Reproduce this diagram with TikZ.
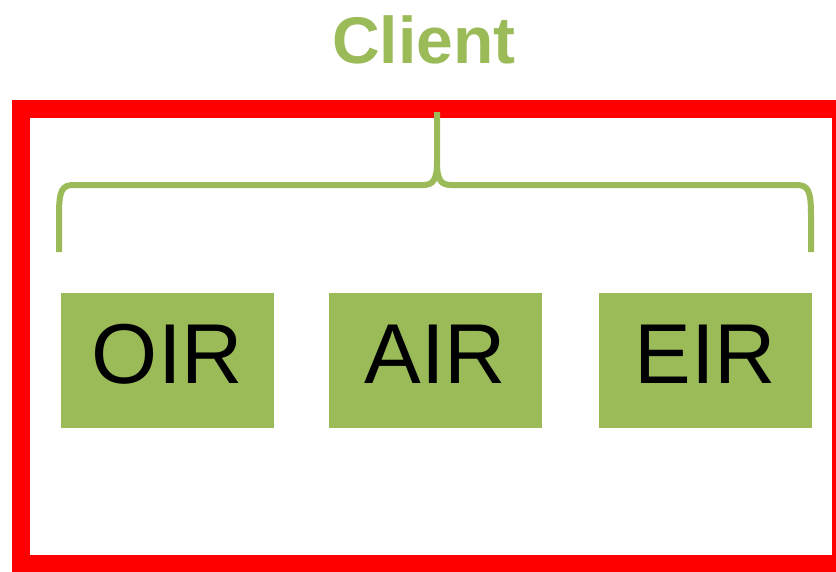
\documentclass[tikz,border=0pt]{standalone}
\usepackage{fontspec}
\setmainfont{Liberation Sans}
\definecolor{cgreen}{HTML}{9BBB59}
\definecolor{cred}{HTML}{FF0000}
\begin{document}
\begin{tikzpicture}[x=1pt,y=-1pt,
  ir/.style={fill=cgreen, minimum width=213pt, minimum height=135pt, inner sep=0pt, text height=61pt, text depth=16pt, font=\fontsize{85}{90}\selectfont, text=black},
  brace/.style={draw=cgreen, line width=6pt, line cap=butt}]
\useasboundingbox (0,0) rectangle (836,571);
\begin{scope}
\clip (0,0) rectangle (836,571);
\draw[cred, line width=18pt] (21,109) rectangle (841,564);
\end{scope}
\node[text=cgreen, anchor=base, inner sep=0pt, font=\bfseries\fontsize{66}{70}\selectfont] (title) at (424,63) {Client};
\coordinate (bl) at (59,252);
\coordinate (br) at (811,252);
\coordinate (tip) at (437,112);
\draw[brace] (bl) -- (59,215) .. controls (59,190) and (62,185) .. (74,185) -- (423,185)
  .. controls (433,185) and (437,180) .. (437,162) -- (tip);
\draw[brace] (br) -- (811,215) .. controls (811,190) and (808,185) .. (796,185) -- (451,185)
  .. controls (441,185) and (437,180) .. (437,162);
\node[ir] (oir) at (167.5,360.5) {OIR};
\node[ir] (air) at (435.5,360.5) {AIR};
\node[ir] (eir) at (705.5,360.5) {EIR};
\end{tikzpicture}
\end{document}
